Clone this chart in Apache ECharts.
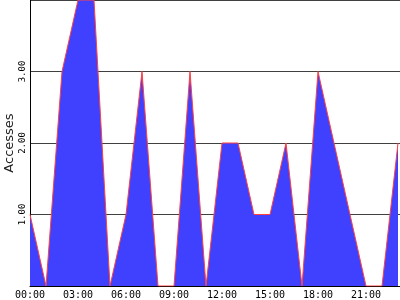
<!DOCTYPE html>
<html>
<head>
<meta charset="utf-8">
<script src="https://cdn.jsdelivr.net/npm/echarts@6/dist/echarts.min.js"></script>
<style>
html,body{margin:0;padding:0;background:#fff;}
#c{width:400px;height:300px;}
</style>
</head>
<body>
<div id="c"></div>
<script>
const hours = [0,1,2,3,4,5,6,7,8,9,10,11,12,13,14,15,16,17,18,19,20,21,22,23];
const accesses = [1,0,3,4,4,0,1,3,0,0,3,0,2,2,1,1,2,0,3,2,1,0,0,2];
const xTickHours = [0,3,6,9,12,15,18,21];
const yAxisName = 'Accesses';

const chart = echarts.init(document.getElementById('c'), null, {renderer:'canvas'});
chart.setOption({
  animation: false,
  backgroundColor: '#ffffff',
  grid: {left: 30, right: 0, top: 0, bottom: 14, containLabel: false, outerBoundsMode: 'none'},
  xAxis: {
    type: 'value', min: 0, max: 23.125, interval: 3,
    axisLine: {show: true, lineStyle: {color: '#000', width: 1}},
    axisTick: {show: false},
    splitLine: {show: false},
    axisLabel: {
      showMaxLabel: false, margin: 4,
      fontFamily: 'DejaVu Sans Mono', fontSize: 10, color: '#000',
      formatter: v => xTickHours.includes(v) ? String(v).padStart(2,'0') + ':00' : ''
    }
  },
  yAxis: {
    type: 'value', min: 0, max: 4, interval: 1,
    name: yAxisName, nameLocation: 'middle', nameRotate: 90, nameGap: 14,
    nameMoveOverlap: false,
    nameTextStyle: {fontFamily: 'DejaVu Sans', fontSize: 13, color: '#222'},
    axisLine: {show: true, lineStyle: {color: '#000', width: 1}},
    axisTick: {show: false},
    splitLine: {show: true, lineStyle: {color: '#404040', width: 1}},
    axisLabel: {
      showMinLabel: false, showMaxLabel: false, rotate: 90, margin: 3,
      fontFamily: 'DejaVu Sans Mono', fontSize: 9, color: '#000',
      formatter: v => v.toFixed(2)
    }
  },
  series: [{
    type: 'line',
    data: hours.map((h, i) => [h, accesses[i]]),
    showSymbol: false,
    smooth: false,
    lineStyle: {color: '#ff4040', width: 1},
    areaStyle: {color: '#4040ff', opacity: 1},
    z: 1
  }]
});
</script>
</body>
</html>
